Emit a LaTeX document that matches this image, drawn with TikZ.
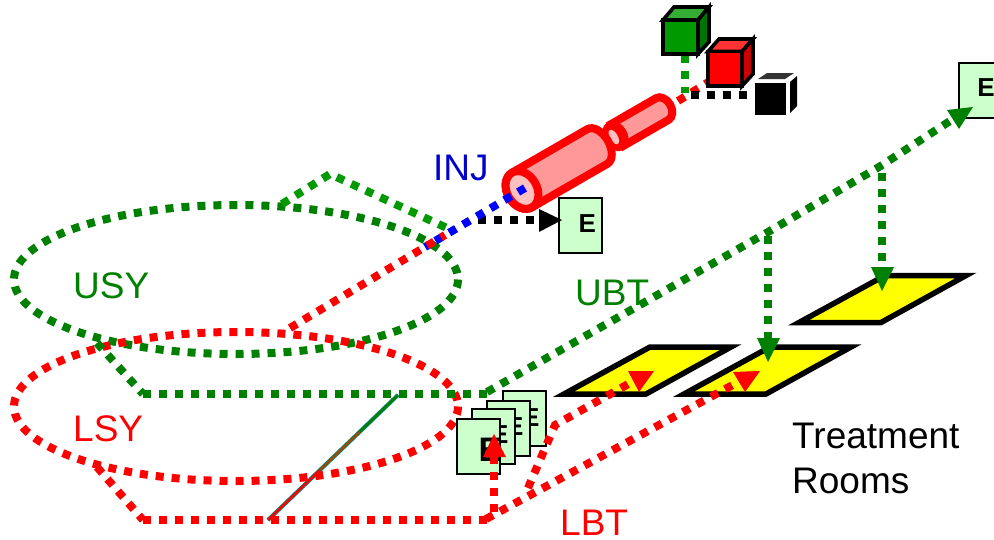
\documentclass[tikz,border=0pt]{standalone}
\usepackage{fontspec}
\usetikzlibrary{calc}
\setmainfont{Liberation Sans}
\definecolor{dgreen}{HTML}{008000}
\definecolor{bgreen}{HTML}{009900}
\definecolor{boxfill}{HTML}{CCFFCC}
\definecolor{cyl}{HTML}{FF9999}
\definecolor{cylin}{HTML}{FFC0C0}
\definecolor{roomfill}{HTML}{FFFF00}
\tikzset{
  dots/.style={line width=8pt,dash pattern=on 8pt off 8pt},
  label/.style={font=\fontsize{37}{37}\selectfont,anchor=base west,inner sep=0pt},
  ebox/.style={draw=black,line width=1.8pt,fill=boxfill,minimum width=43pt,minimum height=55pt,inner sep=0pt,anchor=north west},
  eletter/.style={font=\fontsize{26}{26}\selectfont\bfseries,inner sep=0pt},
  room/.style={draw=black,fill=roomfill,line width=5.5pt,miter limit=10},
}
\begin{document}
\begin{tikzpicture}[x=1pt,y=-1pt]
\useasboundingbox (0,0) rectangle (994,539);
% treatment rooms
\draw[room] (564,394) -- (650,347) -- (731,347) -- (646,394) -- cycle;
\draw[room] (684,394) -- (770,347) -- (851,347) -- (766,394) -- cycle;
\draw[room] (799,322.5) -- (885,275.5) -- (966,275.5) -- (881,322.5) -- cycle;
% stripe between the rings
\draw[line width=4pt,color=teal] (268,520) -- (398,395);
\draw[line width=2.4pt,color=red] (268,520) -- (320,470);
\draw[line width=2.4pt,color=orange!60!black] (320,470) -- (360,431.5);
\draw[line width=2.4pt,color=dgreen] (360,431.5) -- (398,395);
% rings
\draw[dots,dgreen] (236,279.5) ellipse [x radius=222,y radius=74.5];
\draw[dots,red] (236,406.5) ellipse [x radius=222,y radius=74.5];
% coordinates
\coordinate (usyTop) at (282,204);
\coordinate (peak) at (330,174);
\coordinate (merge) at (447,228);
\coordinate (usyOut) at (97,343);
\coordinate (ubtA) at (143,394);
\coordinate (ubtB) at (487,394);
\coordinate (ubtC) at (487,392);
\coordinate (ubtEnd) at (950,121);
\coordinate (r1top) at (768,232);
\coordinate (r2top) at (879,167);
\coordinate (r1arr) at (768,340);
\coordinate (r2arr) at (882,270);
\coordinate (lsyOut) at (97,467);
\coordinate (lbtA) at (143,520);
\coordinate (lbtB) at (489,520);
\coordinate (lbtC) at (486,519);
\coordinate (lbtEnd) at (740,381);
\coordinate (lbtFork) at (528,488);
\coordinate (lbtBend) at (555,425);
\coordinate (lbtEnd2) at (630,383);
\coordinate (lbtUp) at (494,512);
\coordinate (lbtUpEnd) at (494,455);
\coordinate (injA) at (290,328);
\coordinate (injB) at (445,235);
\coordinate (injC) at (425,247);
\coordinate (injD) at (525,188);
\coordinate (injE) at (678,101);
\coordinate (injF) at (710,81);
\coordinate (gsrc) at (685,55);
\coordinate (gend) at (685,93);
\coordinate (ksrc) at (750,95);
\coordinate (kend) at (691,95);
\coordinate (eA) at (478,220);
\coordinate (eB) at (540,220);
% E boxes
\node[ebox] (e4) at (502,390) {}; \node[eletter] at ($(e4.center)+(6.5,-1)$) {E};
\node[ebox] (e3) at (486,400) {}; \node[eletter] at ($(e3.center)+(6.5,-2)$) {E};
\node[ebox] (e2) at (471,408) {}; \node[eletter] at ($(e2.center)+(6.5,-2)$) {E};
\node[ebox] (e1) at (456,418) {}; \node[eletter,font=\fontsize{34}{34}\selectfont\bfseries] at (490,450) {E};
\node[ebox] (e5) at (558,197) {}; \node[eletter] at ($(e5.center)+(7,-2)$) {E};
\node[ebox] (e6) at (958,62) {}; \node[eletter] at (986,88) {E};
% cylinder
\begin{scope}[shift={(522,190)}]
\begin{scope}[x=1pt,y=1pt,rotate=30]
  \draw[red,line width=8pt,fill=cyl] (110,12.5) -- (162,12.5) arc[start angle=90,end angle=-90,x radius=9,y radius=12.5] -- (110,-12.5) -- cycle;
  \draw[red,line width=8pt,fill=red] (108,0) ellipse [x radius=8,y radius=12];
  \fill[cylin] (106,0) ellipse [x radius=4,y radius=8];
  \draw[red,line width=8pt,fill=cyl] (0,20) -- (87,20) arc[start angle=90,end angle=-90,x radius=12,y radius=20] -- (0,-20) arc[start angle=270,end angle=90,x radius=15,y radius=20] -- cycle;
  \draw[red,line width=8pt,fill=cylin] (0,0) ellipse [x radius=15,y radius=20];
\end{scope}
\end{scope}
% green upper branch
\draw[dots,bgreen] (usyTop) -- (peak) -- (merge);
% injection lines
\draw[dots,black] (eA) -- (eB);
\draw[dots,blue] (injD) -- (injC);
\draw[dots,red] (injA) -- (injB);
\draw[dots,red] (injE) -- (injF);
\draw[dots,bgreen] (gsrc) -- (gend);
\draw[dots,black] (kend) -- (ksrc);
% beam transfer
\draw[dots,dgreen] (usyOut) -- (ubtA);
\draw[dots,dgreen] (ubtA) -- (ubtB);
\draw[dots,dgreen] (ubtC) -- (r1top) -- (r2top) -- (ubtEnd);
\draw[dots,dgreen] ($(r1top)+(0,4)$) -- (r1arr);
\draw[dots,dgreen] ($(r2top)+(3,6)$) -- (r2arr);
\draw[dots,red] (lsyOut) -- (lbtA);
\draw[dots,red] (lbtA) -- (lbtB);
\draw[dots,red] (lbtC) -- (lbtEnd);
\draw[dots,red] (lbtFork) -- (lbtBend) -- (lbtEnd2);
\draw[dots,red] (lbtUp) -- (lbtUpEnd);
% arrow heads
\fill[black] (539,209) -- (539,232) -- (562,220) -- cycle;
\fill[dgreen] (947,110) -- (973,107) -- (959,129) -- cycle;
\fill[dgreen] (871,267) -- (894,267) -- (882,291) -- cycle;
\fill[dgreen] (757,338) -- (780,338) -- (768,362) -- cycle;
\fill[red] (628,371) -- (654,371) -- (639,392) -- cycle;
\fill[red] (733,372) -- (760,371) -- (745,392) -- cycle;
\fill[red] (494,434) -- (483,457) -- (506,457) -- cycle;
% cubes
\begin{scope}[line width=3.6pt,draw=black,line join=miter]
  \filldraw[fill=bgreen!80!white] (663,20) -- (674,7) -- (709,7) -- (698,20) -- cycle;
  \filldraw[fill=green!45!black] (698,20) -- (709,7) -- (709,42) -- (698,54) -- cycle;
  \filldraw[fill=bgreen] (663,20) rectangle (698,54);
  \filldraw[fill=red!80!white] (708,51.5) -- (719,39) -- (753,39) -- (742,51.5) -- cycle;
  \filldraw[fill=red!80!black] (742,51.5) -- (753,39) -- (753,74) -- (742,86) -- cycle;
  \filldraw[fill=red] (708,51.5) rectangle (742,86);
\end{scope}
\fill[black!80] (758,79) -- (767,73) -- (794,73) -- (785,79) -- cycle;
\fill[black] (790,82) -- (797,76) -- (797,106) -- (790,113) -- cycle;
\fill[black] (755,83) rectangle (786,115);
% labels
\node[label,text=blue!80!black] (inj) at (433,180) {INJ};
\node[label,text=dgreen] (usy) at (73,298) {USY};
\node[label,text=red] (lsy) at (73,441) {LSY};
\node[label,text=dgreen] (ubt) at (575,305) {UBT};
\node[label,text=red] (lbt) at (560,535) {LBT};
\node[label] (tr) at (792,448) {Treatment};
\node[label] (rm) at (792,493) {Rooms};
\end{tikzpicture}
\end{document}
